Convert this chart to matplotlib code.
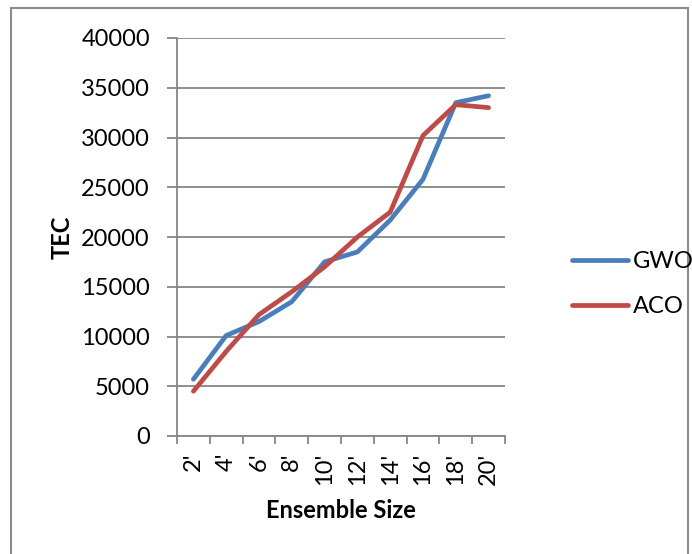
import matplotlib
matplotlib.use("Agg")
import matplotlib.pyplot as plt
from matplotlib.patches import Rectangle
import numpy as np

plt.rcParams['font.family'] = ['Lato', 'DejaVu Sans']

categories = ["2'", "4'", "6'", "8'", "10'", "12'", "14'", "16'", "18'", "20'"]
gwo = [5700, 10100, 11500, 13500, 17500, 18500, 21700, 25800, 33500, 34200]
aco = [4500, 8500, 12200, 14500, 17000, 20000, 22500, 30200, 33300, 33000]

W, H = 692, 554
fig = plt.figure(figsize=(W / 100, H / 100), dpi=100)
ax = fig.add_axes([177 / W, 1 - 436 / H, 328 / W, 398 / H])

grid_col = '#868686'
fs = 17

x = np.arange(len(categories)) + 0.5
ax.plot(x, gwo, color='#4A7EBB', lw=3.4, solid_capstyle='round',
        solid_joinstyle='round', label='GWO', zorder=3)
ax.plot(x, aco, color='#BE4B48', lw=3.4, solid_capstyle='round',
        solid_joinstyle='round', label='ACO', zorder=3)

ax.set_xlim(0, len(categories))
ax.set_ylim(0, 40000)
ax.set_yticks(np.arange(0, 40001, 5000))
ax.set_yticklabels([str(v) for v in range(0, 40001, 5000)], fontsize=fs)
ax.yaxis.grid(True, color=grid_col, lw=1.3)
ax.set_axisbelow(True)

ax.set_xticks(np.arange(0, len(categories) + 1))
ax.set_xticklabels([])
ax.set_xticks(x, minor=True)
ax.set_xticklabels(categories, minor=True, rotation=90, fontsize=fs, va='top')
ax.tick_params(axis='x', which='major', length=6, width=1.3, color=grid_col, direction='out')
ax.tick_params(axis='x', which='minor', length=0, pad=12)
ax.tick_params(axis='y', length=7, width=1.3, color=grid_col, direction='out', pad=12.5)

for s in ['top', 'right']:
    ax.spines[s].set_visible(False)
for s in ['left', 'bottom']:
    ax.spines[s].set_color(grid_col)
    ax.spines[s].set_linewidth(1.3)

ax.set_xlabel('Ensemble Size', fontsize=fs, fontweight='bold', labelpad=10)
ax.set_ylabel('TEC', fontsize=fs, fontweight='bold', labelpad=5)

fig.legend(loc='center left', bbox_to_anchor=(551 / W, 1 - 284 / H),
           frameon=False, fontsize=fs, handlelength=2.35, handletextpad=0.2,
           labelspacing=1.0)

fig.patches.append(Rectangle((11 / W, -0.1), (688 - 11) / W, 1.1 - 8 / H,
                             transform=fig.transFigure, fill=False,
                             edgecolor='#8c8c8c', lw=1.5))

fig.savefig('out.png', dpi=100)
